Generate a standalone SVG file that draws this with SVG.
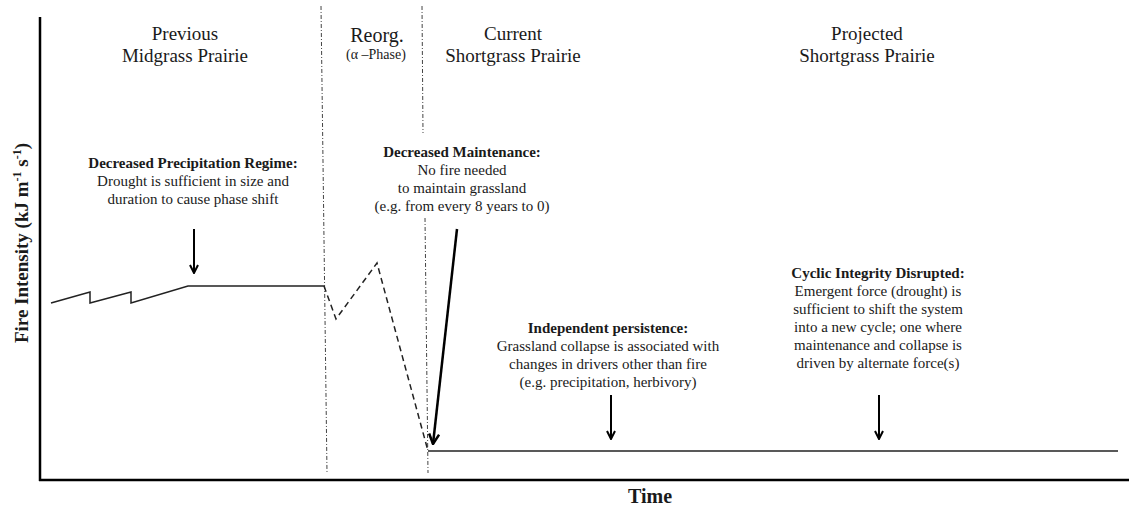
<svg xmlns="http://www.w3.org/2000/svg" width="1129" height="508" viewBox="0 0 1129 508">
<style>
text{font-family:"Liberation Serif","Times New Roman",serif;fill:#1a1a1a;text-anchor:middle}
.h{font-size:19px}
.s{font-size:14px}
.b{font-size:15px;font-weight:bold}
.t{font-size:15px}
.ax{stroke:#000;stroke-width:2.5;fill:none}
.div{stroke:#444;stroke-width:1;stroke-dasharray:4,2,1,2;fill:none}
.ln{stroke:#222;stroke-width:1.5;fill:none}
.dash{stroke:#222;stroke-width:1.5;fill:none;stroke-dasharray:6,4}
.arr{stroke:#000;stroke-width:2;fill:none;marker-end:url(#ah)}
</style>
<defs>
<marker id="ah" viewBox="0 0 10 10" refX="9" refY="5" markerWidth="5" markerHeight="5" orient="auto" markerUnits="strokeWidth">
<path d="M1,1 L9,5 L1,9" fill="none" stroke="#000" stroke-width="2"/>
</marker>
</defs>
<g id="axes">
<line class="ax" x1="40" y1="17" x2="40" y2="481"/>
<line class="ax" x1="39" y1="480" x2="1129" y2="480"/>
<text class="b" style="font-size:20px" x="650" y="503">Time</text>
<text class="b" style="font-size:19px" transform="translate(28,243) rotate(-90)">Fire Intensity (kJ m<tspan dy="-7" font-size="12">-1</tspan><tspan dy="7"> s</tspan><tspan dy="-7" font-size="12">-1</tspan><tspan dy="7">)</tspan></text>
</g>
<g id="dividers">
<line class="div" x1="321" y1="6" x2="327" y2="473"/>
<path class="div" d="M422,6 L423,133 M425,218 L428,473"/>
</g>
<g id="phase-previous">
<text class="h" x="185" y="40">Previous</text>
<text class="h" x="185" y="62">Midgrass Prairie</text>
</g>
<g id="phase-reorg">
<text class="h" style="font-size:20px" x="377" y="42">Reorg.</text>
<text class="s" x="376" y="59">(α –Phase)</text>
</g>
<g id="phase-current">
<text class="h" x="513" y="40">Current</text>
<text class="h" x="513" y="62">Shortgrass Prairie</text>
</g>
<g id="phase-projected">
<text class="h" x="867" y="40">Projected</text>
<text class="h" x="867" y="62">Shortgrass Prairie</text>
</g>
<g id="note-precip">
<text class="b" x="193" y="168">Decreased Precipitation Regime:</text>
<text class="t" x="193" y="186">Drought is sufficient in size and</text>
<text class="t" x="193" y="204">duration to cause phase shift</text>
</g>
<g id="note-maintenance">
<text class="b" x="462" y="157">Decreased Maintenance:</text>
<text class="t" x="462" y="175">No fire needed</text>
<text class="t" x="462" y="193">to maintain grassland</text>
<text class="t" x="462" y="211">(e.g. from every 8 years to 0)</text>
</g>
<g id="note-independent">
<text class="b" x="608" y="333">Independent persistence:</text>
<text class="t" x="608" y="351">Grassland collapse is associated with</text>
<text class="t" x="608" y="369">changes in drivers other than fire</text>
<text class="t" x="608" y="387">(e.g. precipitation, herbivory)</text>
</g>
<g id="note-cyclic">
<text class="b" x="878" y="278">Cyclic Integrity Disrupted:</text>
<text class="t" x="878" y="296">Emergent force (drought) is</text>
<text class="t" x="878" y="314">sufficient to shift the system</text>
<text class="t" x="878" y="332">into a new cycle; one where</text>
<text class="t" x="878" y="350">maintenance and collapse is</text>
<text class="t" x="878" y="368">driven by alternate force(s)</text>
</g>
<g id="trajectory">
<polyline class="ln" points="51,303 90,292 90,303 131,292 131,303 188,286 324,286"/>
<polyline class="dash" points="324,286 336,319 377,263 428,451"/>
<polyline class="ln" points="428,451 1118,451"/>
</g>
<g id="connectors">
<line class="arr" x1="194" y1="229" x2="194" y2="273"/>
<line class="arr" style="stroke-width:2.5" x1="457" y1="229" x2="433" y2="444"/>
<line class="arr" x1="611" y1="395" x2="611" y2="439"/>
<line class="arr" x1="879" y1="395" x2="879" y2="439"/>
</g>
</svg>
